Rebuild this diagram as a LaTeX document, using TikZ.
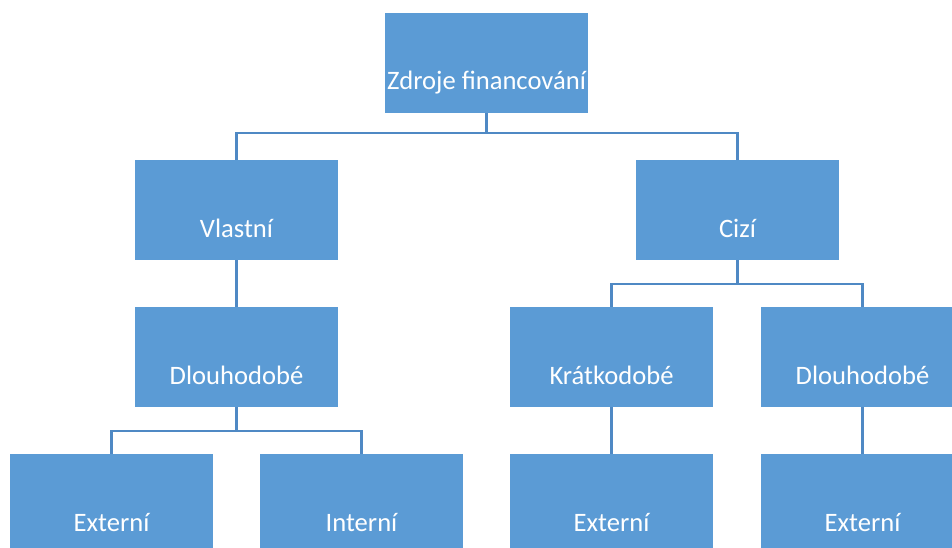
\documentclass[tikz,border=0pt]{standalone}
\usepackage{fontspec}
\setmainfont{Carlito}
\definecolor{boxblue}{HTML}{5B9BD5}
\definecolor{lineblue}{HTML}{4F89C4}
\begin{document}
\begin{tikzpicture}[x=1pt,y=-1pt,
  orgbox/.style={fill=boxblue,draw=none,minimum width=203pt,minimum height=100pt,inner sep=0pt},
  boxlabel/.style={anchor=base,text=white,font=\fontsize{26.6}{30}\selectfont,inner sep=0pt},
  link/.style={draw=lineblue,line width=2.5pt}]
\useasboundingbox (0,0) rectangle (952,548);
\clip (0,0) rectangle (952,548);
% boxes (centres)
\node[orgbox] (top) at (486.5,63) {};
\node[orgbox] (vl) at (236.5,210) {};
\node[orgbox] (ci) at (737.5,210) {};
\node[orgbox] (dl) at (236.5,357) {};
\node[orgbox] (kr) at (611.5,357) {};
\node[orgbox] (dr) at (862.5,357) {};
\node[orgbox] (e1) at (111.5,504) {};
\node[orgbox] (in) at (361.5,504) {};
\node[orgbox] (e2) at (611.5,504) {};
\node[orgbox] (e3) at (862.5,504) {};
% labels
\node[boxlabel] (ttop) at (486.5,90) {Zdroje financování};
\node[boxlabel] (tvl) at (236.5,237) {Vlastní};
\node[boxlabel] (tci) at (737.5,237) {Cizí};
\node[boxlabel] (tdl) at (236.5,384) {Dlouhodobé};
\node[boxlabel] (tkr) at (611.5,384) {Krátkodobé};
\node[boxlabel] (tdr) at (862.5,384) {Dlouhodobé};
\node[boxlabel] (te1) at (111.5,531) {Externí};
\node[boxlabel] (tin) at (361.5,531) {Interní};
\node[boxlabel] (te2) at (611.5,531) {Externí};
\node[boxlabel] (te3) at (862.5,531) {Externí};
% connectors
\coordinate (b1) at (486.5,133);
\draw[link] (top.south) -- (b1);
\draw[link] (b1) -| (vl.north);
\draw[link] (b1) -| (ci.north);
\draw[link] (vl.south) -- (dl.north);
\coordinate (b2) at (737.5,284);
\draw[link] (ci.south) -- (b2);
\draw[link] (b2) -| (kr.north);
\draw[link] (b2) -| (dr.north);
\coordinate (b3) at (236.5,431);
\draw[link] (dl.south) -- (b3);
\draw[link] (b3) -| (e1.north);
\draw[link] (b3) -| (in.north);
\draw[link] (kr.south) -- (e2.north);
\draw[link] (dr.south) -- (e3.north);
\end{tikzpicture}
\end{document}
